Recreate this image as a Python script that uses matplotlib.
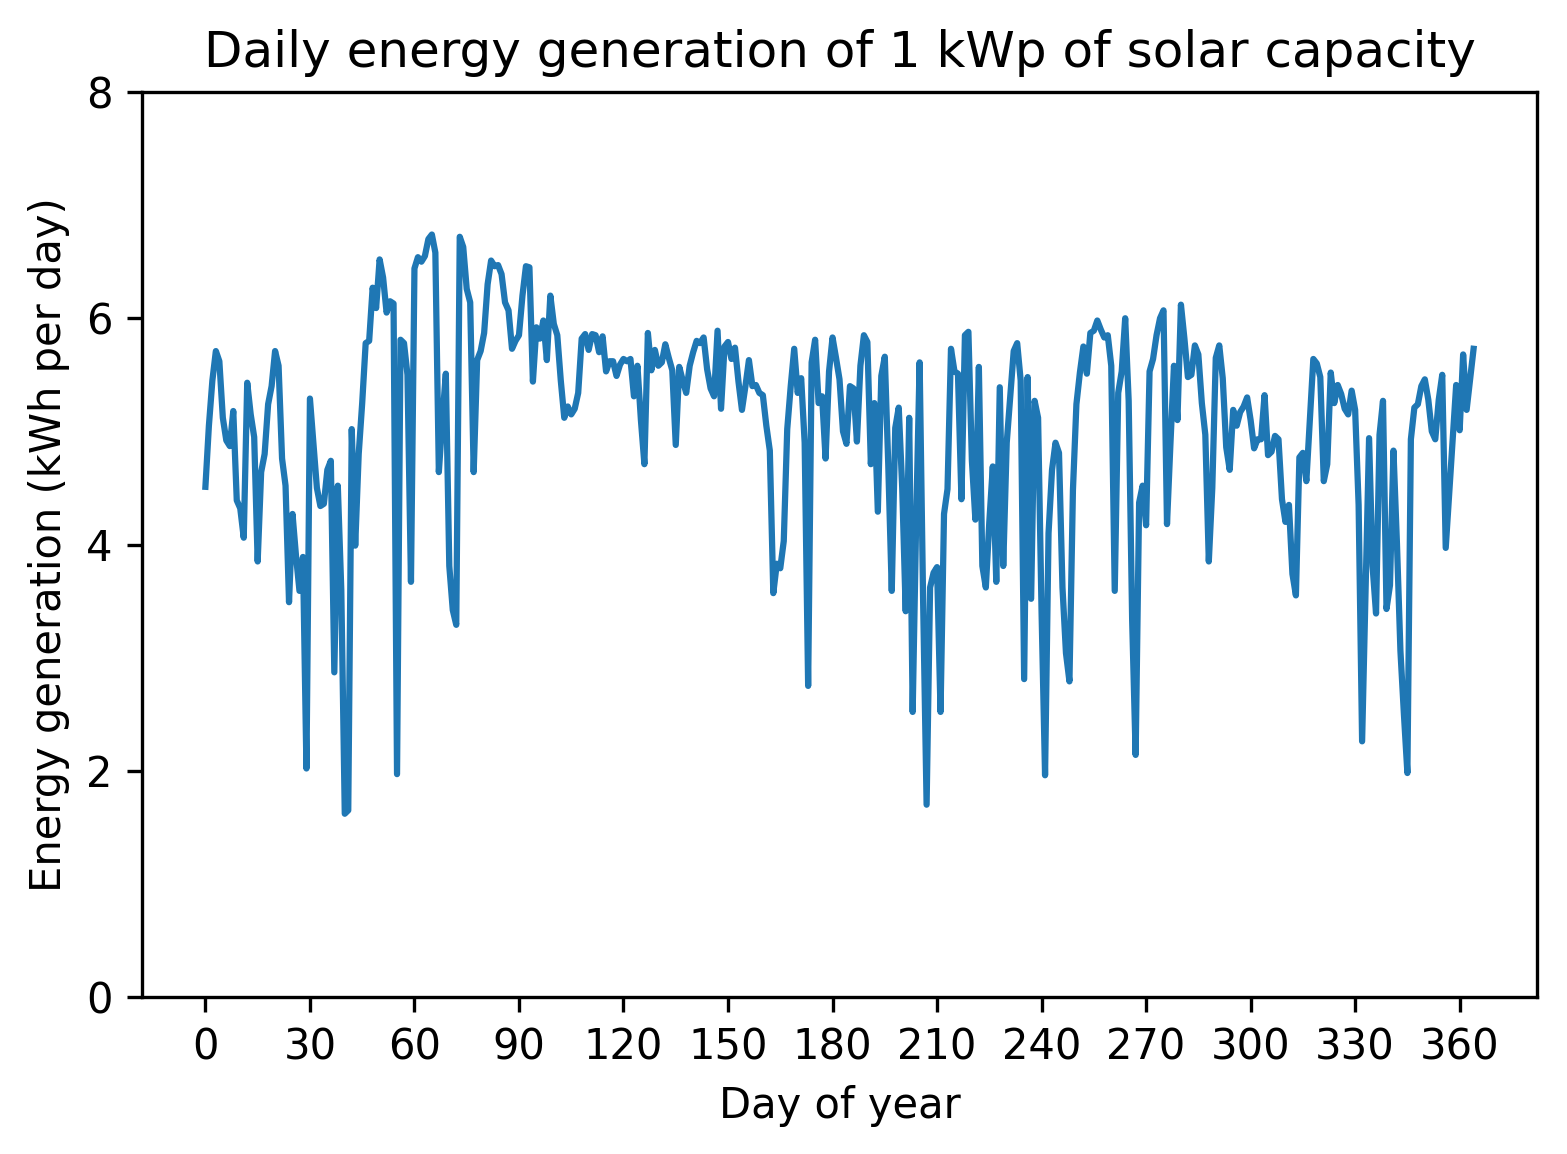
import matplotlib
matplotlib.use("Agg")
import matplotlib.pyplot as plt
import numpy as np

# daily energy from 1 kWp (kWh per day)
energy = [
    4.51, 5.05, 5.45, 5.71, 5.62, 5.12, 4.92, 4.87, 5.18, 4.39,
    4.32, 4.06, 5.43, 5.15, 4.95, 3.85, 4.64, 4.80, 5.24, 5.40,
    5.71, 5.58, 4.76, 4.52, 3.49, 4.27, 3.90, 3.59, 3.89, 2.02,
    5.29, 4.90, 4.50, 4.34, 4.36, 4.66, 4.74, 2.87, 4.52, 3.60,
    1.62, 1.65, 5.02, 3.99, 4.80, 5.25, 5.78, 5.80, 6.27, 6.09,
    6.52, 6.36, 6.05, 6.15, 6.13, 1.97, 5.81, 5.78, 5.50, 3.67,
    6.44, 6.54, 6.50, 6.55, 6.70, 6.74, 6.58, 4.64, 5.10, 5.51,
    3.81, 3.42, 3.29, 6.72, 6.63, 6.26, 6.14, 4.64, 5.63, 5.71,
    5.87, 6.30, 6.51, 6.46, 6.47, 6.39, 6.14, 6.07, 5.73, 5.80,
    5.85, 6.20, 6.46, 6.45, 5.44, 5.92, 5.82, 5.98, 5.63, 6.20,
    5.95, 5.85, 5.45, 5.12, 5.22, 5.15, 5.20, 5.34, 5.82, 5.86,
    5.72, 5.86, 5.85, 5.70, 5.84, 5.53, 5.62, 5.62, 5.49, 5.59,
    5.64, 5.62, 5.64, 5.31, 5.58, 5.10, 4.71, 5.87, 5.54, 5.72,
    5.58, 5.61, 5.77, 5.65, 5.54, 4.88, 5.57, 5.45, 5.34, 5.58,
    5.70, 5.80, 5.78, 5.83, 5.55, 5.38, 5.31, 5.89, 5.20, 5.75,
    5.79, 5.64, 5.74, 5.44, 5.19, 5.40, 5.63, 5.40, 5.41, 5.34,
    5.32, 5.05, 4.83, 3.57, 3.83, 3.79, 4.03, 5.02, 5.40, 5.73,
    5.34, 5.47, 4.90, 2.75, 5.61, 5.81, 5.25, 5.31, 4.76, 5.53,
    5.83, 5.65, 5.46, 5.00, 4.89, 5.40, 5.38, 4.91, 5.58, 5.85,
    5.79, 4.71, 5.25, 4.29, 5.49, 5.66, 4.70, 3.59, 5.03, 5.21,
    4.50, 3.41, 5.12, 2.52, 4.20, 5.61, 3.50, 1.70, 3.62, 3.75,
    3.80, 2.52, 4.27, 4.49, 5.73, 5.53, 5.51, 4.40, 5.85, 5.88,
    4.74, 4.22, 5.57, 3.81, 3.62, 4.20, 4.69, 3.67, 5.39, 3.81,
    4.90, 5.30, 5.71, 5.78, 5.45, 2.81, 5.48, 3.52, 5.27, 5.12,
    3.40, 1.96, 4.10, 4.66, 4.90, 4.81, 3.62, 3.04, 2.79, 4.48,
    5.24, 5.52, 5.75, 5.51, 5.87, 5.89, 5.98, 5.90, 5.83, 5.85,
    5.58, 3.59, 5.34, 5.53, 6.00, 5.27, 3.33, 2.14, 4.37, 4.52,
    4.17, 5.53, 5.64, 5.85, 6.00, 6.07, 4.18, 4.90, 5.58, 5.10,
    6.12, 5.82, 5.48, 5.50, 5.76, 5.68, 5.25, 4.97, 3.85, 4.50,
    5.65, 5.76, 5.47, 4.86, 4.66, 5.19, 5.05, 5.17, 5.22, 5.30,
    5.10, 4.85, 4.93, 4.93, 5.32, 4.79, 4.82, 4.96, 4.93, 4.40,
    4.20, 4.35, 3.74, 3.55, 4.77, 4.81, 4.56, 5.10, 5.64, 5.60,
    5.48, 4.56, 4.71, 5.52, 5.25, 5.41, 5.33, 5.20, 5.15, 5.36,
    5.19, 4.35, 2.26, 3.60, 4.94, 3.81, 3.39, 4.97, 5.27, 3.43,
    3.64, 4.83, 4.01, 3.06, 2.50, 1.98, 4.93, 5.21, 5.24, 5.40,
    5.46, 5.28, 5.00, 4.93, 5.28, 5.50, 3.97, 4.45, 4.93, 5.41,
    5.01, 5.68, 5.19, 5.46, 5.73,
]
days = np.arange(len(energy))
xticks = list(range(0, 361, 30))
yticks = [0, 2, 4, 6, 8]

fig = plt.figure(figsize=(1567 / 300, 1154 / 300), dpi=300)
ax = fig.add_axes([142 / 1567, 1 - 997 / 1154, 1395 / 1567, 905 / 1154])

ax.plot(days, energy, color='#1f77b4', lw=1.5)

ax.set_xticks(xticks)
ax.set_yticks(yticks)
ax.set_ylim(0, 8)
ax.set_xlabel('Day of year')
ax.set_ylabel('Energy generation (kWh per day)')
ax.set_title('Daily energy generation of 1 kWp of solar capacity')

fig.savefig('out.png', dpi=300)
